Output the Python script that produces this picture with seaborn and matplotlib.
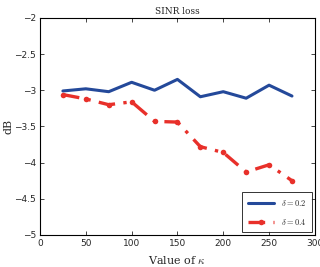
import numpy as np
import pandas as pd
import matplotlib
matplotlib.use('Agg')
import matplotlib.pyplot as plt
import seaborn as sns

# kappa values and SINR loss (dB) for two delta settings
kappa = [25, 50, 75, 100, 125, 150, 175, 200, 225, 250, 275]
loss_d02 = [-3.01, -2.98, -3.02, -2.89, -3.00, -2.85, -3.09, -3.02, -3.11, -2.93, -3.08]
loss_d04 = [-3.06, -3.12, -3.20, -3.16, -3.43, -3.44, -3.78, -3.86, -4.13, -4.03, -4.25]
labels = [r'$\delta = 0.2$', r'$\delta = 0.4$']
xticks = [0, 50, 100, 150, 200, 250, 300]
yticks = [-5, -4.5, -4, -3.5, -3, -2.5, -2]

sns.set_theme(style='white')
plt.rcParams['font.family'] = ['DejaVu Sans']
plt.rcParams['mathtext.fontset'] = 'cm'

df = pd.DataFrame({
    'kappa': kappa * 2,
    'loss': loss_d02 + loss_d04,
    'series': [labels[0]] * len(kappa) + [labels[1]] * len(kappa),
})

fig = plt.figure(figsize=(3.2, 2.67), dpi=100)
ax = fig.add_axes([0.125, 0.12, 0.859, 0.813])

sns.lineplot(data=df[df.series == labels[0]], x='kappa', y='loss', ax=ax,
             color='#24499a', linewidth=2.2, label=labels[0])
sns.lineplot(data=df[df.series == labels[1]], x='kappa', y='loss', ax=ax,
             color='#e8302a', linewidth=2.4, linestyle=(0, (5, 2.5, 1, 2.5)), marker='o',
             markersize=4, markeredgewidth=0, label=labels[1])

ax.set_xlim(0, 300)
ax.set_ylim(-5, -2)
ax.set_xticks(xticks)
ax.set_yticks(yticks)
ax.set_xticklabels([str(t) for t in xticks])
ax.set_yticklabels([f'{t:g}'.replace('-', '\u2212') for t in yticks])
ax.tick_params(direction='in', length=3, width=0.6, labelsize=6.5,
               top=True, right=True, bottom=True, left=True, pad=3)
for s in ax.spines.values():
    s.set_linewidth(0.8)
    s.set_color('black')

ax.set_title('SINR loss', fontsize=6.5, family='serif', fontname='DejaVu Serif', pad=3)
ax.set_xlabel(r'Value of $\kappa$', fontsize=8, family='serif')
ax.set_ylabel('dB', fontsize=8, family='serif', labelpad=0)
ax.yaxis.set_label_coords(-0.095, 0.5)

leg = ax.legend(loc='lower right', fontsize=6, frameon=True, fancybox=False,
                edgecolor='black', borderpad=0.7, labelspacing=1.0,
                handlelength=3.2, borderaxespad=0.3)
leg.get_frame().set_linewidth(0.7)

fig.savefig('out.png', dpi=100)
